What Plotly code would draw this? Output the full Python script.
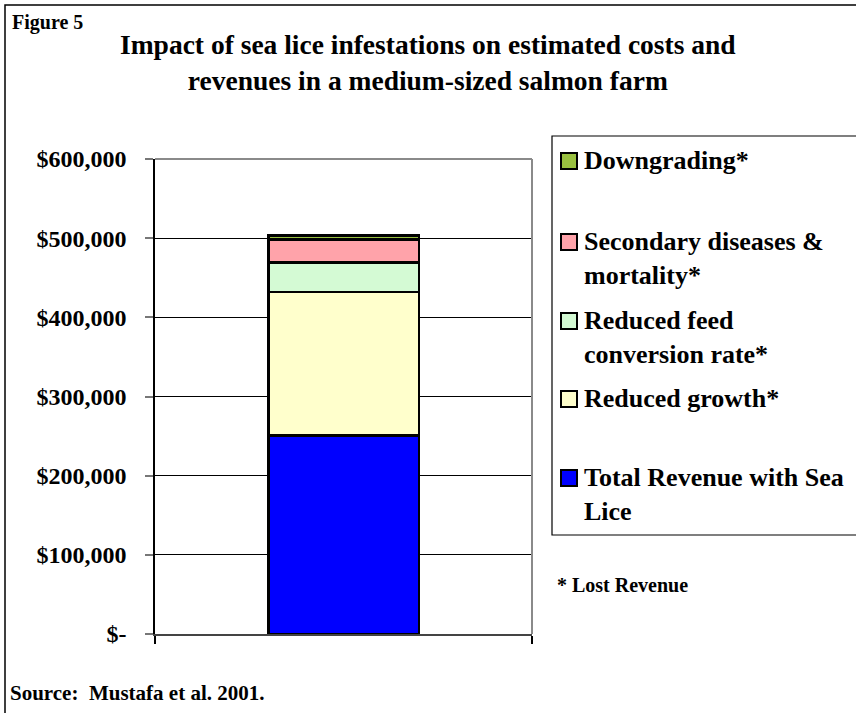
import plotly.graph_objects as go

# ---- data ----
categories = ["Medium-sized salmon farm"]
total_revenue = [251000]
reduced_growth = [181000]
reduced_feed = [37000]
secondary_diseases = [29000]
downgrading = [5000]

series_names = ["Total Revenue with Sea Lice", "Reduced growth*",
                "Reduced feed conversion rate*", "Secondary diseases & mortality*",
                "Downgrading*"]
legend_labels = ["Total Revenue with Sea<br>Lice", "Reduced growth*",
                 "Reduced feed<br>conversion rate*", "Secondary diseases &<br>mortality*",
                 "Downgrading*"]
series_values = [total_revenue, reduced_growth, reduced_feed, secondary_diseases, downgrading]
series_colors = ["#0000FF", "#FFFFCC", "#D4FAD4", "#FFA3AA", "#99C040"]

tick_vals = [0, 100000, 200000, 300000, 400000, 500000, 600000]
tick_text = ["$-", "$100,000", "$200,000", "$300,000", "$400,000", "$500,000", "$600,000"]

FONT = "Liberation Serif"
W, H = 856, 713
PL, PR, PT, PB = 155, 532, 159, 634  # plot area in pixels

fig = go.Figure()
for name, vals, col in zip(series_names, series_values, series_colors):
    fig.add_trace(go.Bar(
        x=[0] * len(vals), y=vals, name=name, width=0.4,
        marker=dict(color=col, line=dict(color="black", width=2.8)),
        showlegend=False, hovertemplate=name + ": %{y:$,.0f}<extra></extra>",
    ))

def px_x(x):
    return (x - PL) / (PR - PL)

def px_y(y):
    return (PB - y) / (PB - PT)

shapes = []
annotations = []

# outer frame
shapes.append(dict(type="rect", xref="paper", yref="paper",
                   x0=px_x(5), x1=px_x(W + 20), y0=px_y(H + 20), y1=px_y(5),
                   line=dict(color="black", width=1.5), layer="below"))
# legend box
shapes.append(dict(type="rect", xref="paper", yref="paper",
                   x0=px_x(552), x1=px_x(W + 20), y0=px_y(535), y1=px_y(136),
                   line=dict(color="black", width=1.2), layer="below"))
# plot area right/top border
shapes.append(dict(type="line", xref="x domain", yref="y domain",
                   x0=1, x1=1, y0=0, y1=1, line=dict(color="#8a8a8a", width=2)))
shapes.append(dict(type="line", xref="x domain", yref="y domain",
                   x0=0, x1=1, y0=1, y1=1, line=dict(color="#8a8a8a", width=2)))

# manual legend (top to bottom)
legend_centers = [161, 242, 321, 399, 478]
for i, idx in enumerate(range(len(series_names) - 1, -1, -1)):
    cy = legend_centers[i]
    shapes.append(dict(type="rect", xref="paper", yref="paper",
                       x0=px_x(561), x1=px_x(577), y0=px_y(cy + 8), y1=px_y(cy - 8),
                       fillcolor=series_colors[idx], line=dict(color="black", width=2)))
    annotations.append(dict(text=legend_labels[idx], xref="paper", yref="paper",
                            x=px_x(582), y=px_y(cy - 17), xanchor="left", yanchor="top",
                            align="left", showarrow=False,
                            font=dict(family=FONT, size=26, color="black", weight="bold")))

annotations.append(dict(text="* Lost Revenue", xref="paper", yref="paper",
                        x=px_x(555), y=px_y(585), xanchor="left", yanchor="middle",
                        showarrow=False,
                        font=dict(family=FONT, size=20, color="black", weight="bold")))
annotations.append(dict(text="Figure 5", xref="paper", yref="paper",
                        x=px_x(10), y=px_y(9), xanchor="left", yanchor="top",
                        showarrow=False,
                        font=dict(family=FONT, size=20, color="black", weight="bold")))
annotations.append(dict(text="Source:  Mustafa et al. 2001.", xref="paper", yref="paper",
                        x=px_x(8), y=px_y(693), xanchor="left", yanchor="middle",
                        showarrow=False,
                        font=dict(family=FONT, size=21, color="black", weight="bold")))
annotations.append(dict(text="Impact of sea lice infestations on estimated costs and<br>revenues in a medium-sized salmon farm",
                        xref="paper", yref="paper",
                        x=px_x(428), y=px_y(27), xanchor="center", yanchor="top",
                        showarrow=False,
                        font=dict(family=FONT, size=27.5, color="black", weight="bold")))

fig.update_layout(
    width=W, height=H,
    barmode="stack",
    paper_bgcolor="white", plot_bgcolor="white",
    margin=dict(l=PL, r=W - PR, t=PT, b=H - PB),
    shapes=shapes, annotations=annotations,
    font=dict(family=FONT, color="black"),
    xaxis=dict(range=[-0.5, 0.5], tickvals=[-0.5, 0.5], showticklabels=False,
               ticks="outside", ticklen=8, tickcolor="black", tickwidth=1.5,
               showgrid=False, zeroline=False, showline=True,
               linecolor="#444444", linewidth=2),
    yaxis=dict(range=[0, 600000], tickvals=tick_vals, ticktext=tick_text,
               ticks="outside", ticklen=8, tickcolor="#777777", tickwidth=1.5,
               ticklabelstandoff=14,
               showgrid=True, gridcolor="black", gridwidth=1,
               zeroline=False, showline=True, linecolor="black", linewidth=1.5,
               tickfont=dict(family=FONT, size=24, color="black", weight="bold")),
)

fig.write_html("out.html")
